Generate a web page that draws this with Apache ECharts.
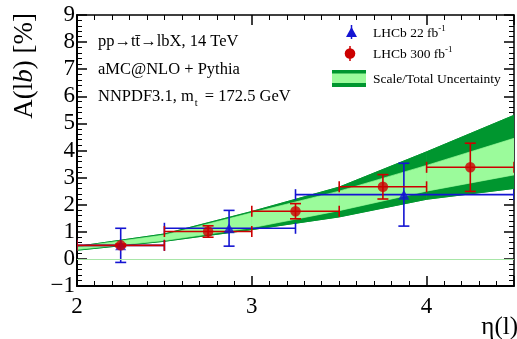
<!DOCTYPE html>
<html>
<head>
<meta charset="utf-8">
<script src="https://cdn.jsdelivr.net/npm/echarts@6/dist/echarts.min.js"></script>
<style>
html,body{margin:0;padding:0;background:#fff;}
#chart{width:517px;height:339px;}
</style>
</head>
<body>
<div id="chart"></div>
<script>
// ---- band (theory prediction) ----
const etaGrid   = [2.0, 2.5, 3.0, 3.5, 4.0, 4.5];
const totalLow  = [0.32, 0.65, 1.08, 1.55, 2.20, 2.60];
const scaleLow  = [0.35, 0.68, 1.15, 1.78, 2.50, 3.10];
const scaleHigh = [0.44, 0.88, 1.70, 2.50, 3.45, 4.45];
const totalHigh = [0.46, 0.92, 1.75, 2.65, 3.95, 5.30];

// ---- LHCb 300 fb-1 (red) ----
const redBinLo = [2.0, 2.5, 3.0, 3.5, 4.0];
const redBinHi = [2.5, 3.0, 3.5, 4.0, 4.5];
const redEta   = [2.25, 2.75, 3.25, 3.75, 4.25];
const redVal   = [0.50, 1.01, 1.76, 2.66, 3.38];
const redErr   = [0.05, 0.21, 0.28, 0.45, 0.89];

// ---- LHCb 22 fb-1 (blue) ----
const blueBinLo = [2.0, 2.5, 3.25];
const blueBinHi = [2.5, 3.25, 4.5];
const blueEta   = [2.25, 2.87, 3.87];
const blueVal   = [0.50, 1.13, 2.37];
const blueErr   = [0.63, 0.66, 1.16];

const xTickLabels = {2: '2', 3: '3', 4: '4'};
const yTickLabels = {'-1': '\u22121', 0: '0', 1: '1', 2: '2', 3: '3', 4: '4', 5: '5', 6: '6', 7: '7', 8: '8', 9: '9'};

const DARK = '#00962f', LIGHT = '#9bfb9b', RED = '#cc0000', BLUE = '#1414d2';
const SERIF = '"Liberation Serif", "DejaVu Serif", serif';

const chart = echarts.init(document.getElementById('chart'), null, {renderer: 'canvas'});

// segments [x0, x1, lo0, lo1, hi0, hi1]
function segs(lo, hi) {
  const out = [];
  for (let i = 0; i < etaGrid.length - 1; i++) {
    out.push([etaGrid[i], etaGrid[i + 1], lo[i], lo[i + 1], hi[i], hi[i + 1]]);
  }
  return out;
}
function makeBand(color, edge) {
  return function (params, api) {
    const x0 = api.value(0), x1 = api.value(1);
    const a = api.coord([x0, api.value(2)]), b = api.coord([x1, api.value(3)]);
    const c = api.coord([x1, api.value(5)]), d = api.coord([x0, api.value(4)]);
    const children = [{type: 'polygon', shape: {points: [a, b, c, d]},
      style: {fill: color, stroke: color, lineWidth: 0.7}}];
    if (edge) {
      children.push({type: 'line', shape: {x1: a[0], y1: a[1], x2: b[0], y2: b[1]}, style: {stroke: edge, lineWidth: 1}});
      children.push({type: 'line', shape: {x1: d[0], y1: d[1], x2: c[0], y2: c[1]}, style: {stroke: edge, lineWidth: 1}});
    }
    return {type: 'group', children};
  };
}

function errData(lo, hi, c, v, e) { return c.map((x, i) => [lo[i], hi[i], x, v[i], e[i]]); }

function makeErr(color) {
  return function (params, api) {
    const xl = api.value(0), xh = api.value(1), xc = api.value(2), y = api.value(3), e = api.value(4);
    const pL = api.coord([xl, y]), pR = api.coord([xh, y]);
    const pT = api.coord([xc, y + e]), pB = api.coord([xc, y - e]);
    const cap = 5.5;
    const st = {stroke: color, lineWidth: 1.6};
    const L = (x1, y1, x2, y2) => ({type: 'line', shape: {x1, y1, x2, y2}, style: st});
    return {type: 'group', children: [
      L(pL[0], pL[1], pR[0], pR[1]),
      L(pL[0], pL[1] - cap, pL[0], pL[1] + cap),
      L(pR[0], pR[1] - cap, pR[0], pR[1] + cap),
      L(pT[0], pT[1], pB[0], pB[1]),
      L(pT[0] - cap, pT[1], pT[0] + cap, pT[1]),
      L(pB[0] - cap, pB[1], pB[0] + cap, pB[1])
    ]};
  };
}

const axisCommonX = {
  type: 'value', min: 2, max: 4.5, interval: 1,
  splitLine: {show: false},
  axisTick: {inside: true, length: 10, lineStyle: {color: '#000', width: 1.5}},
  minorTick: {show: true, splitNumber: 10, length: 5, lineStyle: {color: '#000', width: 1}},
  minorSplitLine: {show: false}
};
const axisCommonY = {
  type: 'value', min: -1, max: 9, interval: 1,
  splitLine: {show: false},
  axisTick: {inside: true, length: 10, lineStyle: {color: '#000', width: 1.5}},
  minorTick: {show: true, splitNumber: 5, length: 5, lineStyle: {color: '#000', width: 1}},
  minorSplitLine: {show: false}
};

const option = {
  animation: false,
  backgroundColor: '#fff',
  grid: {left: 77, right: -1, top: 15, bottom: 53, containLabel: false},
  xAxis: [
    Object.assign({}, axisCommonX, {
      position: 'bottom',
      axisLine: {onZero: false, lineStyle: {color: '#000', width: 2}},
      axisLabel: {color: '#000', fontFamily: SERIF, fontSize: 23, margin: 9,
        formatter: v => xTickLabels[v] || ''}
    }),
    Object.assign({}, axisCommonX, {
      position: 'top',
      axisLine: {onZero: false, lineStyle: {color: '#000', width: 1.5}},
      axisLabel: {show: false}
    })
  ],
  yAxis: [
    Object.assign({}, axisCommonY, {
      position: 'left',
      axisLine: {onZero: false, lineStyle: {color: '#000', width: 2}},
      axisLabel: {color: '#000', fontFamily: SERIF, fontSize: 23, margin: 2,
        formatter: v => yTickLabels[v] || ''}
    }),
    Object.assign({}, axisCommonY, {
      position: 'right',
      axisLine: {onZero: false, lineStyle: {color: '#000', width: 1.5}},
      axisLabel: {show: false}
    })
  ],
  series: [
    {name: 'Total uncertainty', type: 'custom', z: 1, silent: true, clip: true,
      renderItem: makeBand(DARK, DARK), encode: {x: [0, 1], y: [2, 3, 4, 5]},
      data: segs(totalLow, totalHigh)},
    {name: 'Scale uncertainty', type: 'custom', z: 1, silent: true, clip: true,
      renderItem: makeBand(LIGHT, null), encode: {x: [0, 1], y: [2, 3, 4, 5]},
      data: segs(scaleLow, scaleHigh)},
    {
      name: 'zero', type: 'line', data: [], silent: true, z: 2,
      markLine: {silent: true, symbol: 'none', label: {show: false},
        lineStyle: {color: '#a8e6a8', width: 1, type: 'solid'},
        data: [{yAxis: 0}]}
    },
    {
      name: 'LHCb 22 fb-1 err', type: 'custom', z: 3, clip: true,
      renderItem: makeErr(BLUE),
      encode: {x: [0, 1, 2], y: [3]},
      data: errData(blueBinLo, blueBinHi, blueEta, blueVal, blueErr)
    },
    {
      name: 'LHCb 300 fb-1 err', type: 'custom', z: 4, clip: true,
      renderItem: makeErr(RED),
      encode: {x: [0, 1, 2], y: [3]},
      data: errData(redBinLo, redBinHi, redEta, redVal, redErr)
    },
    {
      name: 'LHCb 22 fb-1', type: 'scatter', z: 5, symbol: 'triangle', symbolSize: [11, 10],
      itemStyle: {color: BLUE}, data: blueEta.map((x, i) => [x, blueVal[i]])
    },
    {
      name: 'LHCb 300 fb-1', type: 'scatter', z: 6, symbol: 'circle', symbolSize: 10.5,
      itemStyle: {color: RED}, data: redEta.map((x, i) => [x, redVal[i]])
    }
  ],
  graphic: [
    {type: 'text', x: 25, y: 13, rotation: Math.PI / 2,
      style: {text: '{n|A(l}{i|b}{n|) [%]}', align: 'right', verticalAlign: 'middle',
        rich: {n: {fontFamily: SERIF, fontSize: 27, fill: '#000'},
               i: {fontFamily: SERIF, fontSize: 27, fontStyle: 'italic', fill: '#000'}}}},
    {type: 'text', x: 518, y: 327,
      style: {text: '\u03b7(l)', fontFamily: SERIF, fontSize: 25, fill: '#000', align: 'right', verticalAlign: 'middle'}},
    {type: 'text', x: 98, y: 42,
      style: {text: 'pp\u2192tt\u0304\u2192lbX, 14 TeV', fontFamily: SERIF, fontSize: 16.5, fill: '#000', verticalAlign: 'middle'}},
    {type: 'text', x: 98, y: 70,
      style: {text: 'aMC@NLO + Pythia', fontFamily: SERIF, fontSize: 16.5, fill: '#000', verticalAlign: 'middle'}},
    {type: 'text', x: 98, y: 97,
      style: {text: '{n|NNPDF3.1, m}{s|t}{n| = 172.5 GeV}', verticalAlign: 'middle',
        rich: {n: {fontFamily: SERIF, fontSize: 16.5, fill: '#000'},
               s: {fontFamily: SERIF, fontSize: 10.5, fill: '#000', padding: [12, 3, 0, 1]}}}},
    {type: 'line', shape: {x1: 351.5, y1: 25, x2: 351.5, y2: 39}, style: {stroke: BLUE, lineWidth: 1.5}},
    {type: 'polygon', shape: {points: [[351.5, 27], [346, 37], [357, 37]]}, style: {fill: BLUE}},
    {type: 'text', x: 373, y: 33,
      style: {text: '{n|LHCb 22 fb}{s|-1}', verticalAlign: 'middle',
        rich: {n: {fontFamily: SERIF, fontSize: 13.5, fill: '#000'},
               s: {fontFamily: SERIF, fontSize: 9, fill: '#000', padding: [0, 0, 8, 0]}}}},
    {type: 'line', shape: {x1: 350, y1: 46, x2: 350, y2: 61}, style: {stroke: RED, lineWidth: 1.5}},
    {type: 'circle', shape: {cx: 350, cy: 53.5, r: 5.3}, style: {fill: RED}},
    {type: 'text', x: 373, y: 54,
      style: {text: '{n|LHCb 300 fb}{s|-1}', verticalAlign: 'middle',
        rich: {n: {fontFamily: SERIF, fontSize: 13.5, fill: '#000'},
               s: {fontFamily: SERIF, fontSize: 9, fill: '#000', padding: [0, 0, 8, 0]}}}},
    {type: 'rect', shape: {x: 332, y: 70, width: 34, height: 17}, style: {fill: DARK}},
    {type: 'rect', shape: {x: 332, y: 73.5, width: 34, height: 9.5}, style: {fill: LIGHT}},
    {type: 'text', x: 373, y: 79,
      style: {text: 'Scale/Total Uncertainty', fontFamily: SERIF, fontSize: 13.5, fill: '#000', verticalAlign: 'middle'}}
  ]
};
chart.setOption(option);
</script>
</body>
</html>
